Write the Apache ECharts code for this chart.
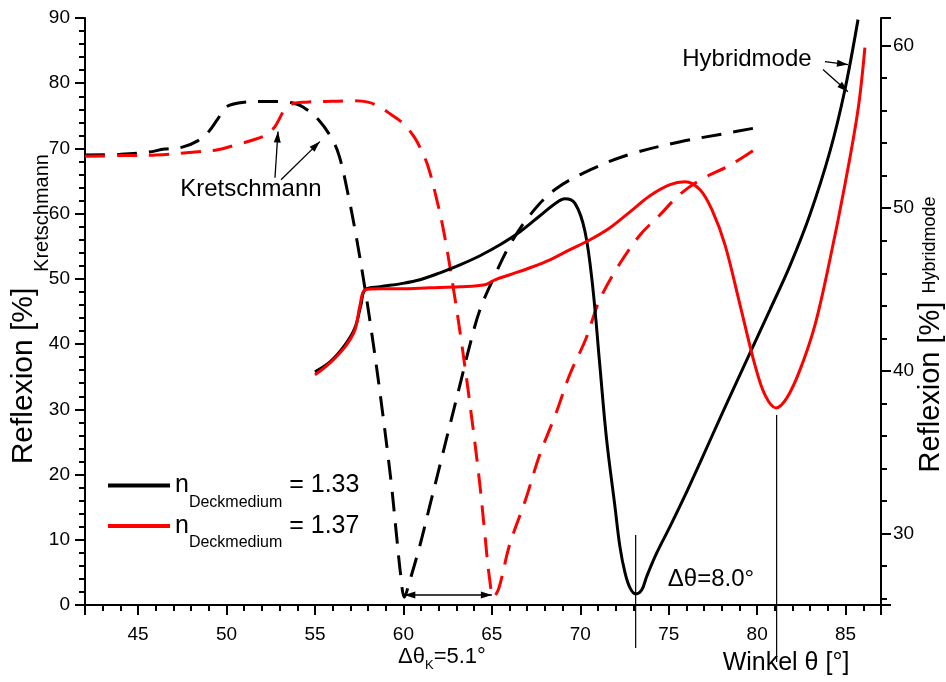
<!DOCTYPE html>
<html>
<head>
<meta charset="utf-8">
<title>Reflexion Kretschmann / Hybridmode</title>
<script src="https://cdn.jsdelivr.net/npm/echarts@6/dist/echarts.min.js"></script>
<style>
  html, body { margin: 0; padding: 0; background: #fff; }
  #chart { width: 946px; height: 682px; }
</style>
</head>
<body>
<div id="chart"></div>
<script>
// Kretschmann-Resonanz (gestrichelt, linke Achse), [Winkel, Reflexion %]
var kretschmann133 = [
  [42, 69.0], [44, 69.1], [45.5, 69.4], [46.5, 69.9], [47.5, 70.2], [48.4, 71.2], [49.0, 72.6],
  [49.5, 74.5], [50.0, 76.4], [51.0, 77.1], [52.0, 77.2], [53.0, 77.2], [53.7, 77.0], [54.3, 76.4],
  [55.2, 74.4], [56.0, 71.3], [56.4, 68.6], [56.9, 62.6], [57.3, 57.0], [57.8, 49.0], [58.3, 40.0],
  [58.8, 30.0], [59.3, 19.0], [59.6, 11.0], [59.85, 4.5], [60.05, 1.2], [60.37, 3.8], [60.94, 9.2],
  [61.5, 15.3], [62.07, 21.5], [62.63, 27.6], [63.2, 33.8], [63.76, 39.9], [64.33, 45.3], [65.18, 50.6],
  [66.02, 55.2], [67.16, 59.8], [68.57, 63.7], [70.55, 66.7], [72.8, 69.1], [75.6, 71.0], [78.0, 72.2],
  [80.0, 73.2]
];
var kretschmann137 = [
  [42, 68.8], [44, 68.9], [46, 69.0], [48.4, 69.5], [49.5, 69.8], [50.6, 70.6], [51.5, 71.3],
  [52.2, 72.0], [52.7, 73.2], [53.0, 74.6], [53.3, 76.0], [53.8, 76.9], [54.5, 77.1], [55.5, 77.2],
  [57.0, 77.3], [58.0, 77.1], [58.7, 76.3], [59.3, 75.2], [60.0, 73.8], [60.6, 71.8], [61.0, 69.8],
  [61.4, 67.2], [61.9, 62.0], [62.3, 57.0], [62.8, 49.0], [63.3, 40.0], [63.8, 30.0], [64.3, 19.0],
  [64.6, 11.0], [64.85, 4.5], [65.1, 1.2], [65.4, 2.6], [66.0, 9.2], [66.9, 16.1], [67.7, 23.0],
  [68.6, 29.2], [69.4, 35.3], [70.3, 40.7], [71.1, 46.8], [72.2, 52.2], [73.4, 56.8], [74.5, 59.8],
  [75.6, 62.9], [76.8, 65.2], [78.5, 67.5], [80.0, 70.1]
];

// Hybridmode (durchgezogen, rechte Achse)
var hybrid133 = [
  [55.0, 39.94], [55.85, 40.55], [56.7, 41.6], [57.26, 42.65], [57.6, 44.06], [57.83, 44.98],
  [58.68, 45.17], [59.81, 45.35], [60.94, 45.6], [62.07, 46.03], [63.2, 46.52], [64.33, 47.08],
  [65.46, 47.75], [66.59, 48.55], [67.72, 49.54], [68.57, 50.28], [69.13, 50.58], [69.7, 50.3],
  [70.26, 48.6], [70.7, 45.2], [71.1, 40.4], [71.49, 35.75], [71.96, 31.65], [72.24, 29.19],
  [72.53, 27.57], [72.81, 26.65], [73.13, 26.28], [73.47, 26.52], [73.75, 27.34], [74.32, 28.8],
  [75.07, 30.42], [75.8, 32.06], [76.77, 34.36], [78.01, 37.35], [79.31, 40.43], [80.72, 43.75],
  [81.85, 46.46], [82.98, 49.6], [84.11, 53.48], [84.96, 57.29], [85.7, 61.6]
];
var hybrid137 = [
  [55.0, 39.75], [55.85, 40.49], [56.7, 41.48], [57.26, 42.52], [57.55, 44.06], [57.83, 44.98],
  [58.68, 45.05], [59.81, 45.05], [61.5, 45.11], [63.2, 45.17], [64.61, 45.29], [65.18, 45.6],
  [66.02, 45.91], [67.16, 46.34], [68.29, 46.83], [69.42, 47.45], [70.55, 48.06], [71.68, 48.8],
  [72.81, 49.78], [73.94, 50.77], [75.07, 51.45], [75.92, 51.63], [76.77, 51.14], [77.44, 49.91],
  [78.18, 47.75], [79.03, 44.06], [79.87, 40.37], [80.44, 38.52], [81.06, 37.72], [81.68, 38.34],
  [82.42, 40.06], [83.27, 42.83], [84.11, 46.83], [84.96, 51.45], [85.7, 56.06], [86.09, 59.88]
];

var legendNames = ['n = 1.33', 'n = 1.37'];
var legendValues = ['1.33', '1.37'];
var resonanceAngles = [73.13, 81.1];      // Minima Hybridmode, Δθ = 8.0°
var kretschmannMinima = [60.05, 65.1];    // Minima Kretschmann, Δθ_K = 5.1°

var font = 'Liberation Sans, Arial, Helvetica, sans-serif';

var chart = echarts.init(document.getElementById('chart'));

function axisCommon() {
  return {
    type: 'value',
    axisLine: { show: true, onZero: false, lineStyle: { color: '#000', width: 2 } },
    axisTick: { show: true, length: 10, lineStyle: { color: '#000', width: 2 } },
    minorTick: { show: true, splitNumber: 5, length: 6, lineStyle: { color: '#000', width: 2 } },
    splitLine: { show: false },
    axisLabel: { color: '#000', fontSize: 19, fontFamily: font, showMinLabel: false, showMaxLabel: false }
  };
}

var xAxis = axisCommon();
xAxis.min = 42; xAxis.max = 87; xAxis.splitNumber = 9;
xAxis.axisLabel.margin = 20;

var yLeft = axisCommon();
yLeft.min = 0; yLeft.max = 90; yLeft.interval = 10; yLeft.position = 'left';
yLeft.axisLabel.margin = 15; yLeft.axisLabel.showMinLabel = true; yLeft.axisLabel.showMaxLabel = true;

var yRight = axisCommon();
yRight.min = 25.6; yRight.max = 61.7; yRight.splitNumber = 5; yRight.position = 'right';
yRight.axisLabel.margin = 12;

function lineSeries(name, data, axis, color, dashed) {
  return {
    name: name, type: 'line', data: data, yAxisIndex: axis,
    showSymbol: false, symbol: 'none', smooth: 0.35,
    lineStyle: { color: color, width: 3, type: dashed ? [20, 12] : 'solid' },
    itemStyle: { color: color }
  };
}

var option = {
  animation: false,
  backgroundColor: '#fff',
  grid: { left: 85, right: 65, top: 18, bottom: 77 },
  xAxis: xAxis,
  yAxis: [yLeft, yRight],
  legend: {
    data: legendNames,
    orient: 'vertical', left: 108, top: 473, padding: 0, itemGap: 3,
    itemWidth: 62, itemHeight: 4, icon: 'rect', selectedMode: false,
    formatter: function (name) {
      return '{n|n}{s|Deckmedium}{n| = ' + legendValues[legendNames.indexOf(name)] + '}';
    },
    textStyle: {
      color: '#000', fontFamily: font,
      rich: {
        n: { fontSize: 25, lineHeight: 50, verticalAlign: 'middle', fontFamily: font, color: '#000' },
        s: { fontSize: 16, lineHeight: 20, verticalAlign: 'bottom', fontFamily: font, color: '#000' }
      }
    }
  },
  series: [
    lineSeries('Kretschmann 1.33', kretschmann133, 0, '#000', true),
    lineSeries('Kretschmann 1.37', kretschmann137, 0, '#ff0000', true),
    lineSeries(legendNames[0], hybrid133, 1, '#000', false),
    lineSeries(legendNames[1], hybrid137, 1, '#ff0000', false)
  ]
};
chart.setOption(option);

// Beschriftungen und Pfeile, an Datenkoordinaten (linke Achse) verankert
function P(x, y) { return chart.convertToPixel({ xAxisIndex: 0, yAxisIndex: 0 }, [x, y]); }

function txt(pos, text, size, rot, extra) {
  return {
    type: 'text', x: pos[0], y: pos[1], rotation: rot || 0, silent: true,
    style: Object.assign({ text: text, fontSize: size, fontFamily: font, fill: '#000',
      align: 'center', verticalAlign: 'middle' }, extra || {})
  };
}
function head(tip, from, len, half) {
  var a = Math.atan2(tip[1] - from[1], tip[0] - from[0]);
  var bx = tip[0] - len * Math.cos(a), by = tip[1] - len * Math.sin(a);
  return {
    type: 'polygon', silent: true,
    shape: { points: [tip, [bx - half * Math.sin(a), by + half * Math.cos(a)], [bx + half * Math.sin(a), by - half * Math.cos(a)]] },
    style: { fill: '#000' }
  };
}
function arrow(from, to, both) {
  var els = [{ type: 'line', silent: true, shape: { x1: from[0], y1: from[1], x2: to[0], y2: to[1] },
    style: { stroke: '#000', lineWidth: 1.3 } }];
  els.push(head(to, from, 11, 3.5));
  if (both) els.push(head(from, to, 11, 3.5));
  return els;
}
function vline(x, yTop, yBottom) {
  var a = P(x, yTop), b = P(x, yBottom);
  return { type: 'line', silent: true, shape: { x1: a[0], y1: a[1], x2: b[0], y2: b[1] },
    style: { stroke: '#000', lineWidth: 1.2 } };
}

var g = [];
// Achsentitel
g.push(txt([24, 376], 'Reflexion [%]', 30, Math.PI / 2));
g.push(txt([42, 213], 'Kretschmann', 20, Math.PI / 2));
g.push(txt([931, 387], 'Reflexion [%]', 29, Math.PI / 2));
g.push(txt([930, 245], 'Hybridmode', 18, Math.PI / 2));
g.push(txt([786, 663], 'Winkel θ [°]', 25, 0));

// Kretschmann-Pfeile
g.push(txt(P(51.38, 63.7), 'Kretschmann', 24, 0));
g = g.concat(arrow(P(52.74, 65.5), P(52.91, 72.6)));
g = g.concat(arrow(P(53.08, 65.2), P(55.28, 71.05)));

// Hybridmode-Pfeile
g.push(txt(P(79.42, 83.6), 'Hybridmode', 24, 0));
g = g.concat(arrow(P(83.83, 83.3), P(85.13, 82.86)));
g = g.concat(arrow(P(83.72, 82.1), P(85.13, 78.7)));

// Δθ_K zwischen den Kretschmann-Minima
g = g.concat(arrow(P(kretschmannMinima[0], 1.53), P(kretschmannMinima[1] - 0.1, 1.53), true));
g.push(txt(P(62.18, -8.0), '{a|Δθ}{s|K}{a|=5.1°}', 22, 0, {
  rich: {
    a: { fontSize: 22, lineHeight: 30, fontFamily: font, fill: '#000' },
    s: { fontSize: 13, lineHeight: 14, verticalAlign: 'bottom', fontFamily: font, fill: '#000' }
  }
}));

// Δθ zwischen den Hybridmode-Minima
g.push(vline(resonanceAngles[0], 10.74, -6.6));
g.push(vline(resonanceAngles[1], 29.15, -8.75));
g.push(txt(P(77.39, 4.0), 'Δθ=8.0°', 24, 0));

chart.setOption({ graphic: g });
</script>
</body>
</html>
